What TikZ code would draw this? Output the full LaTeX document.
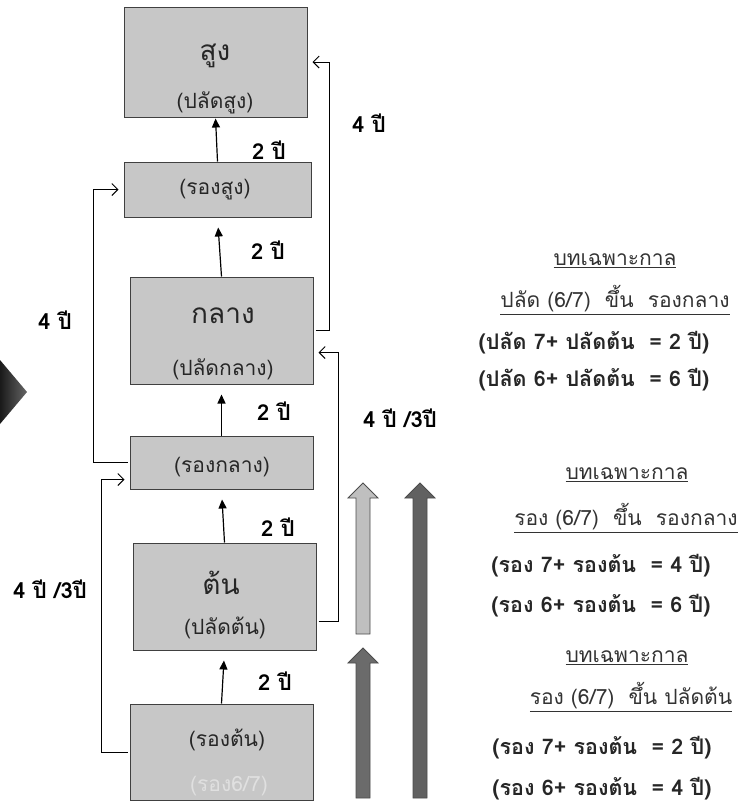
\documentclass[tikz,border=0pt]{standalone}
\usepackage{fontspec}
\setmainfont[Script=Thai]{Loma}
\usetikzlibrary{arrows.meta}
\tikzset{
  box/.style={draw=black!75,fill=black!22,line width=1pt,inner sep=0pt},
  big/.style={font=\fontsize{28}{30}\selectfont,text=black!85},
  sub/.style={font=\fontsize{21}{23}\selectfont,text=black!85},
  yrs/.style={font=\bfseries\fontsize{22}{24}\selectfont},
  note/.style={font=\fontsize{21}{23}\selectfont,text=black!80},
  sum/.style={font=\bfseries\fontsize{21.5}{23}\selectfont,text=black!85},
  up/.style={-{Triangle[length=9pt,width=8pt]},line width=1.2pt,shorten >=10pt},
  link/.style={-{Straight Barb[length=6pt,width=12pt]},line width=1pt,
    shorten <=2pt,shorten >=5pt},
  fat/.style={draw=black!70,fill=#1,line width=0.8pt},
}

\begin{document}
\begin{tikzpicture}[x=1pt,y=-1pt]
  \useasboundingbox (0,0) rectangle (749,807);

  % edge of the big pointer on the left
  \shade[left color=black!90,right color=black!60] (0,360) -- (27,392) -- (0,424) -- cycle;

  % the six grades
  \node[box,minimum width=183pt,minimum height=110pt] (sung) at (215.5,62) {};
  \node[box,minimum width=187pt,minimum height=55pt] (rongsung) at (217.5,189.5) {};
  \node[box,minimum width=183pt,minimum height=107pt] (klang) at (221.5,330.5) {};
  \node[box,minimum width=183pt,minimum height=53pt] (rongklang) at (221.5,462.5) {};
  \node[box,minimum width=183pt,minimum height=107pt] (ton) at (224.5,596.5) {};
  \node[box,minimum width=183pt,minimum height=96pt] (rongton) at (221.5,752) {};

  \node[big] (sungtxt) at (215,56) {สูง};
  \node[sub] (sungsub) at (215,103) {(ปลัดสูง)};
  \node[sub] (rongsungtxt) at (215,190) {(รองสูง)};
  \node[big] (klangtxt) at (223,316) {กลาง};
  \node[sub] (klangsub) at (223,369) {(ปลัดกลาง)};
  \node[sub] (rongklangtxt) at (222,467) {(รองกลาง)};
  \node[big] (tontxt) at (221,583) {ต้น};
  \node[sub] (tonsub) at (225,628) {(ปลัดต้น)};
  \node[sub] (rongtontxt) at (227,740) {(รองต้น)};
  \node[sub,text=white!88!black] (rong67) at (229,786) {(รอง6/7)};

  % two years for each step up
  \draw[up,shorten >=1pt] (rongsung.north) -- (sung.south);
  \draw[up] (klang.north) -- (rongsung.south);
  \draw[up] (rongklang.north) -- (klang.south);
  \draw[up] (ton.north) -- (rongklang.south);
  \draw[up] (rongton.north) -- (ton.south);
  \node[yrs] (y1) at (269,150) {2 ปี};
  \node[yrs] (y2) at (268,250) {2 ปี};
  \node[yrs] (y3) at (274,411) {2 ปี};
  \node[yrs] (y4) at (278,527) {2 ปี};
  \node[yrs] (y5) at (275,681) {2 ปี};

  % skipping a grade
  \draw[link] (rongklang.west) -- ++(-36,0) |- (rongsung.west);
  \draw[link] (rongton.west) -- ++(-28,0) |- ([yshift=-17pt]rongklang.west);
  \draw[link] (klang.east) -- ++(16,0) |- (sung.east);
  \draw[link] ([yshift=-25pt]ton.east) -- ++(22,0) |- ([yshift=-22pt]klang.east);
  \node[yrs] (s1) at (55,320) {4 ปี};
  \node[yrs] (s2) at (50,589) {4 ปี /3ปี};
  \node[yrs] (s3) at (369,123) {4 ปี};
  \node[yrs] (s4) at (400,418) {4 ปี /3ปี};

  % block arrows
  \foreach \x/\top/\bot/\col in {363/483/634/black!25,363/648/798/black!58,420/483/798/black!62}
    \draw[fat=\col] (\x,\top) -- ++(15,15) -- ++(-8,0) |- (\x-7,\bot) -- ++(0,{-\bot+\top+15})
      -- ++(-8,0) -- cycle;

  % transitional rules
  \node[note] (t1) at (615,261) {\underline{บทเฉพาะกาล}};
  \node[note] (t1a) at (615,300) {\underline{ปลัด (6/7)~ ขึ้น~ รองกลาง}};
  \node[sum] (t1b) at (594,343) {(ปลัด 7+ ปลัดต้น~ = 2 ปี)};
  \node[sum] (t1c) at (594,380) {(ปลัด 6+ ปลัดต้น~ = 6 ปี)};

  \node[note] (t2) at (627,475) {\underline{บทเฉพาะกาล}};
  \node[note] (t2a) at (626,518) {\underline{รอง (6/7)~ ขึ้น~ รองกลาง}};
  \node[sum] (t2b) at (601,566) {(รอง 7+ รองต้น~ = 4 ปี)};
  \node[sum] (t2c) at (601,606) {(รอง 6+ รองต้น~ = 6 ปี)};

  \node[note] (t3) at (627,658) {\underline{บทเฉพาะกาล}};
  \node[note] (t3a) at (631,697) {\underline{รอง (6/7)~ ขึ้น ปลัดต้น}};
  \node[sum] (t3b) at (602,748) {(รอง 7+ รองต้น~ = 2 ปี)};
  \node[sum] (t3c) at (602,789) {(รอง 6+ รองต้น~ = 4 ปี)};
\end{tikzpicture}
\end{document}
